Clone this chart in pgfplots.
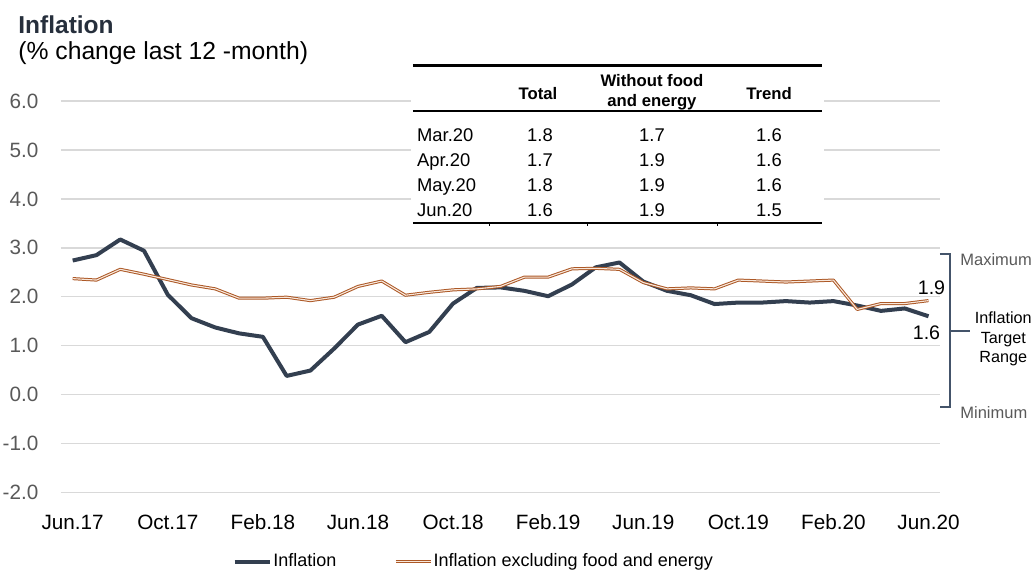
\documentclass[border=0pt]{standalone}
\usepackage{fontspec}
\setmainfont{Liberation Sans}
\usepackage{pgfplots}
\pgfplotsset{compat=1.18}

\definecolor{infl}{RGB}{51,63,80}
\definecolor{core}{RGB}{172,88,38}
\definecolor{corein}{RGB}{248,232,220}
\definecolor{bracketc}{RGB}{68,84,106}
\definecolor{gridl}{RGB}{217,217,217}
\definecolor{gridd}{RGB}{160,160,160}
\definecolor{ticklab}{RGB}{89,89,89}
\definecolor{titlec}{RGB}{38,47,60}

\newcommand\fs[1]{\fontsize{#1bp}{#1bp}\selectfont}

\pgfplotstableread{
m v
0 2.74
1 2.85
2 3.17
3 2.94
4 2.04
5 1.56
6 1.37
7 1.25
8 1.18
9 0.38
10 0.49
11 0.94
12 1.43
13 1.61
14 1.07
15 1.28
16 1.86
17 2.18
18 2.19
19 2.12
20 2.01
21 2.25
22 2.60
23 2.70
24 2.31
25 2.12
26 2.03
27 1.85
28 1.88
29 1.88
30 1.91
31 1.88
32 1.91
33 1.82
34 1.71
35 1.76
36 1.60
}\inflation

\pgfplotstableread{
m v
0 2.37
1 2.34
2 2.56
3 2.46
4 2.35
5 2.24
6 2.16
7 1.97
8 1.97
9 1.99
10 1.92
11 1.99
12 2.21
13 2.32
14 2.03
15 2.09
16 2.14
17 2.16
18 2.21
19 2.40
20 2.40
21 2.57
22 2.58
23 2.56
24 2.29
25 2.16
26 2.18
27 2.16
28 2.34
29 2.32
30 2.30
31 2.32
32 2.34
33 1.74
34 1.86
35 1.86
36 1.92
}\core

\begin{document}
\begin{tikzpicture}
\path[use as bounding box] (0,0) rectangle (517bp,286bp);
\begin{axis}[
  at={(30.4bp,39.85bp)}, anchor=south west,
  scale only axis, width=439.8bp, height=195.6bp,
  xmin=-0.5, xmax=36.5, ymin=-2, ymax=6,
  axis lines=left, axis line style={draw=none},
  tick style={draw=none},
  clip=false,
  ytick={-2,-1,0,1,2,3,4,5,6},
  yticklabels={-2.0,-1.0,0.0,1.0,2.0,3.0,4.0,5.0,6.0},
  ymajorgrids, major grid style={gridl, line width=0.75bp},
  extra y ticks={1,3}, extra y tick labels={},
  extra y tick style={grid style={gridd, line width=0.9bp}},
  xtick={0,4,...,36},
  xticklabels={Jun.17,Oct.17,Feb.18,Jun.18,Oct.18,Feb.19,Jun.19,Oct.19,Feb.20,Jun.20},
  xticklabel style={anchor=base, yshift=-16.35bp, font=\fs{10.35}, text=black},
  yticklabel style={anchor=east, inner sep=0pt, xshift=-8.9bp, font=\fs{10.35}, text=ticklab},
  legend style={at={(0.195,-0.1774)}, anchor=west, draw=none, fill=none,
    inner sep=0pt, font=\fs{9}, legend columns=2,
    nodes={inner sep=0.8bp},
    /tikz/every even column/.append style={column sep=28bp}},
  legend image code/.code={\draw[#1] (0bp,0bp) -- (17.5bp,0bp);},
  legend cell align=left,
]
\addplot[infl, line width=2bp, line join=round] table[x=m,y=v] {\inflation};
\addlegendentry{Inflation}
\addplot[core, line width=0.5bp, double=corein, double distance=0.55bp, line join=round] table[x=m,y=v] {\core};
\addlegendentry{Inflation excluding food and energy}
\end{axis}

\begin{scope}[x=0.5bp, y=-0.5bp, yshift=286bp]
  % title
  \node[anchor=base west, inner sep=0pt, text=titlec, font=\fs{12.25}\bfseries] at (18,34) {Inflation};
  \node[anchor=base west, inner sep=0pt, text=black, font=\fs{12.35}] at (18,59.5) {(\% change last 12 -month)};
  % table
  \fill[white] (411,58) rectangle (824,227);
  \draw[black, line width=1.1bp] (413,65.5) -- (822,65.5);
  \draw[black, line width=1bp] (413,110.7) -- (822,110.7);
  \draw[black, line width=1bp] (413,223.3) -- (822,223.3);
  \foreach \xx in {490,588,718} {\draw[black, line width=0.5bp] (\xx,223.3) -- (\xx,226.5);}
  \begin{scope}[every node/.style={inner sep=0pt, anchor=base, font=\fs{8.35}\bfseries}]
    \node at (538,99.3) {Total};
    \node at (652,86.7) {Without food};
    \node at (652,106.7) {and energy};
    \node at (769,99.3) {Trend};
  \end{scope}
  \begin{scope}[every node/.style={inner sep=0pt, anchor=base, font=\fs{9.2}}]
    \node[anchor=base west] at (416.7,141.7) {Mar.20};
    \node at (540,141.7) {1.8}; \node at (652,141.7) {1.7}; \node at (769,141.7) {1.6};
    \node[anchor=base west] at (416.7,166.7) {Apr.20};
    \node at (540,166.7) {1.7}; \node at (652,166.7) {1.9}; \node at (769,166.7) {1.6};
    \node[anchor=base west] at (416.7,191.7) {May.20};
    \node at (540,191.7) {1.8}; \node at (652,191.7) {1.9}; \node at (769,191.7) {1.6};
    \node[anchor=base west] at (416.7,216.7) {Jun.20};
    \node at (540,216.7) {1.6}; \node at (652,216.7) {1.9}; \node at (769,216.7) {1.5};
  \end{scope}
  % data labels
  \node[anchor=base, inner sep=0pt, font=\fs{9.8}] at (931.5,295) {1.9};
  \node[anchor=base, inner sep=0pt, font=\fs{9.8}] at (926.5,339.3) {1.6};
  % bracket
  \draw[bracketc, line width=1bp] (940,254) -- (950,254) -- (950,407.3) -- (940,407.3);
  \draw[bracketc, line width=1bp] (950,330.7) -- (970,330.7);
  \node[anchor=base west, inner sep=0pt, text=ticklab, font=\fs{8.25}] at (960,266) {Maximum};
  \node[anchor=base west, inner sep=0pt, text=ticklab, font=\fs{8.25}] at (960,419) {Minimum};
  \node[anchor=base, inner sep=0pt, font=\fs{8.1}] at (1003.3,323.3) {Inflation};
  \node[anchor=base, inner sep=0pt, font=\fs{8.1}] at (1003.3,343.3) {Target};
  \node[anchor=base, inner sep=0pt, font=\fs{8.1}] at (1003.3,362.7) {Range};
\end{scope}
\end{tikzpicture}
\end{document}
